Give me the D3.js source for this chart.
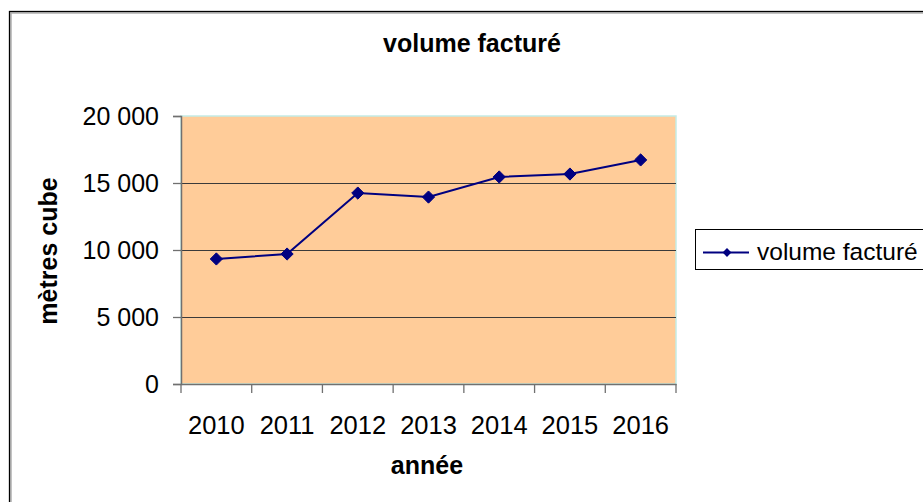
<!DOCTYPE html>
<html>
<head>
<meta charset="utf-8">
<script src="https://cdn.jsdelivr.net/npm/d3@7"></script>
<style>
  html, body { margin: 0; padding: 0; background: #fff; }
  svg { display: block; font-family: "Liberation Sans", Arial, sans-serif; }
</style>
</head>
<body>
<svg id="chart" width="923" height="502"></svg>
<script>
const categories = ["2010", "2011", "2012", "2013", "2014", "2015", "2016"];
const seriesName = "volume facturé";
const values = [9330, 9700, 14250, 13950, 15450, 15670, 16720];
const yTicks = [0, 5000, 10000, 15000, 20000];
const chartTitle = "volume facturé";
const xTitle = "année";
const yTitle = "mètres cube";

const svg = d3.select("#chart");
const plot = { left: 181, top: 116, right: 676, bottom: 384 };

// outer chart border
svg.append("rect")
  .attr("x", 11).attr("y", 13).attr("width", 1000).attr("height", 600)
  .attr("fill", "none").attr("stroke", "#b0b0b0").attr("stroke-width", 1.5);
svg.append("rect")
  .attr("x", 9.5).attr("y", 11.5).attr("width", 1000).attr("height", 600)
  .attr("fill", "none").attr("stroke", "#000").attr("stroke-width", 1.3);

const x = d3.scaleBand().domain(categories).range([plot.left, plot.right]).padding(0);
const y = d3.scaleLinear().domain([0, 20000]).range([plot.bottom, plot.top]);

// plot background
svg.append("rect")
  .attr("x", plot.left).attr("y", plot.top)
  .attr("width", plot.right - plot.left).attr("height", plot.bottom - plot.top)
  .attr("fill", "#FFCC99").attr("stroke", "#c4ece6").attr("stroke-width", 1.5);

// gridlines
svg.append("g").selectAll("line")
  .data(yTicks.filter(d => d > 0 && d < 20000))
  .join("line")
  .attr("x1", plot.left).attr("x2", plot.right)
  .attr("y1", d => Math.round(y(d)) + 0.5).attr("y2", d => Math.round(y(d)) + 0.5)
  .attr("stroke", "#3a3a3a").attr("stroke-width", 1);

const fmt = d => d3.format(",")(d).replace(/,/g, " ");

// y axis
const yAxis = svg.append("g")
  .attr("transform", `translate(${plot.left},0)`)
  .call(d3.axisLeft(y).tickValues(yTicks).tickFormat(fmt).tickSize(8).tickPadding(14));
yAxis.select(".domain").attr("stroke", "#707070").attr("stroke-width", 1.5);
yAxis.selectAll(".tick line").attr("stroke", "#707070").attr("stroke-width", 1.3);
yAxis.selectAll(".tick text")
  .attr("font-size", 25).attr("fill", "#000")
  .attr("font-family", "Liberation Sans, Arial, sans-serif")
  .attr("dy", "0.35em");

// x axis
const xAxis = svg.append("g")
  .attr("transform", `translate(0,${plot.bottom})`)
  .call(d3.axisBottom(x).tickSize(0).tickPadding(0));
xAxis.select(".domain").attr("stroke", "#707070").attr("stroke-width", 1.5);
xAxis.selectAll(".tick text")
  .attr("font-size", 25.5).attr("fill", "#000")
  .attr("font-family", "Liberation Sans, Arial, sans-serif")
  .attr("y", 50).attr("dy", 0);
// category boundary tick marks
const bounds = categories.map(c => x(c)).concat([x(categories[categories.length - 1]) + x.bandwidth()]);
svg.append("g").selectAll("line").data(bounds).join("line")
  .attr("x1", d => d).attr("x2", d => d)
  .attr("y1", plot.bottom).attr("y2", plot.bottom + 9)
  .attr("stroke", "#707070").attr("stroke-width", 1.3);

// line series
const cx = c => x(c) + x.bandwidth() / 2;
const line = d3.line().x((d, i) => cx(categories[i])).y(d => y(d));
svg.append("path").datum(values)
  .attr("d", line).attr("fill", "none")
  .attr("stroke", "#000080").attr("stroke-width", 2);

const diamond = d3.symbol().type(d3.symbolDiamond2).size(95);
svg.append("g").selectAll("path").data(values).join("path")
  .attr("d", diamond)
  .attr("transform", (d, i) => `translate(${cx(categories[i])},${y(d)})`)
  .attr("fill", "#000080").attr("stroke", "#000080").attr("stroke-width", 1);

// titles
svg.append("text").text(chartTitle)
  .attr("x", 472).attr("y", 52).attr("text-anchor", "middle")
  .attr("font-size", 25).attr("font-weight", "bold");
svg.append("text").text(xTitle)
  .attr("x", 427).attr("y", 474).attr("text-anchor", "middle")
  .attr("font-size", 25).attr("font-weight", "bold");
svg.append("text").text(yTitle)
  .attr("transform", "translate(57,251) rotate(-90)")
  .attr("text-anchor", "middle")
  .attr("font-size", 25).attr("font-weight", "bold");

// legend
const lg = svg.append("g");
lg.append("rect").attr("x", 695.5).attr("y", 229.5).attr("width", 240).attr("height", 40)
  .attr("fill", "#fff").attr("stroke", "#000").attr("stroke-width", 1);
lg.append("line").attr("x1", 703).attr("x2", 749).attr("y1", 252.5).attr("y2", 252.5)
  .attr("stroke", "#000080").attr("stroke-width", 2);
lg.append("path").attr("d", d3.symbol().type(d3.symbolDiamond2).size(50))
  .attr("transform", "translate(727,252.5)").attr("fill", "#000080");
lg.append("text").text(seriesName)
  .attr("x", 757).attr("y", 260).attr("font-size", 24.5);
</script>
</body>
</html>
